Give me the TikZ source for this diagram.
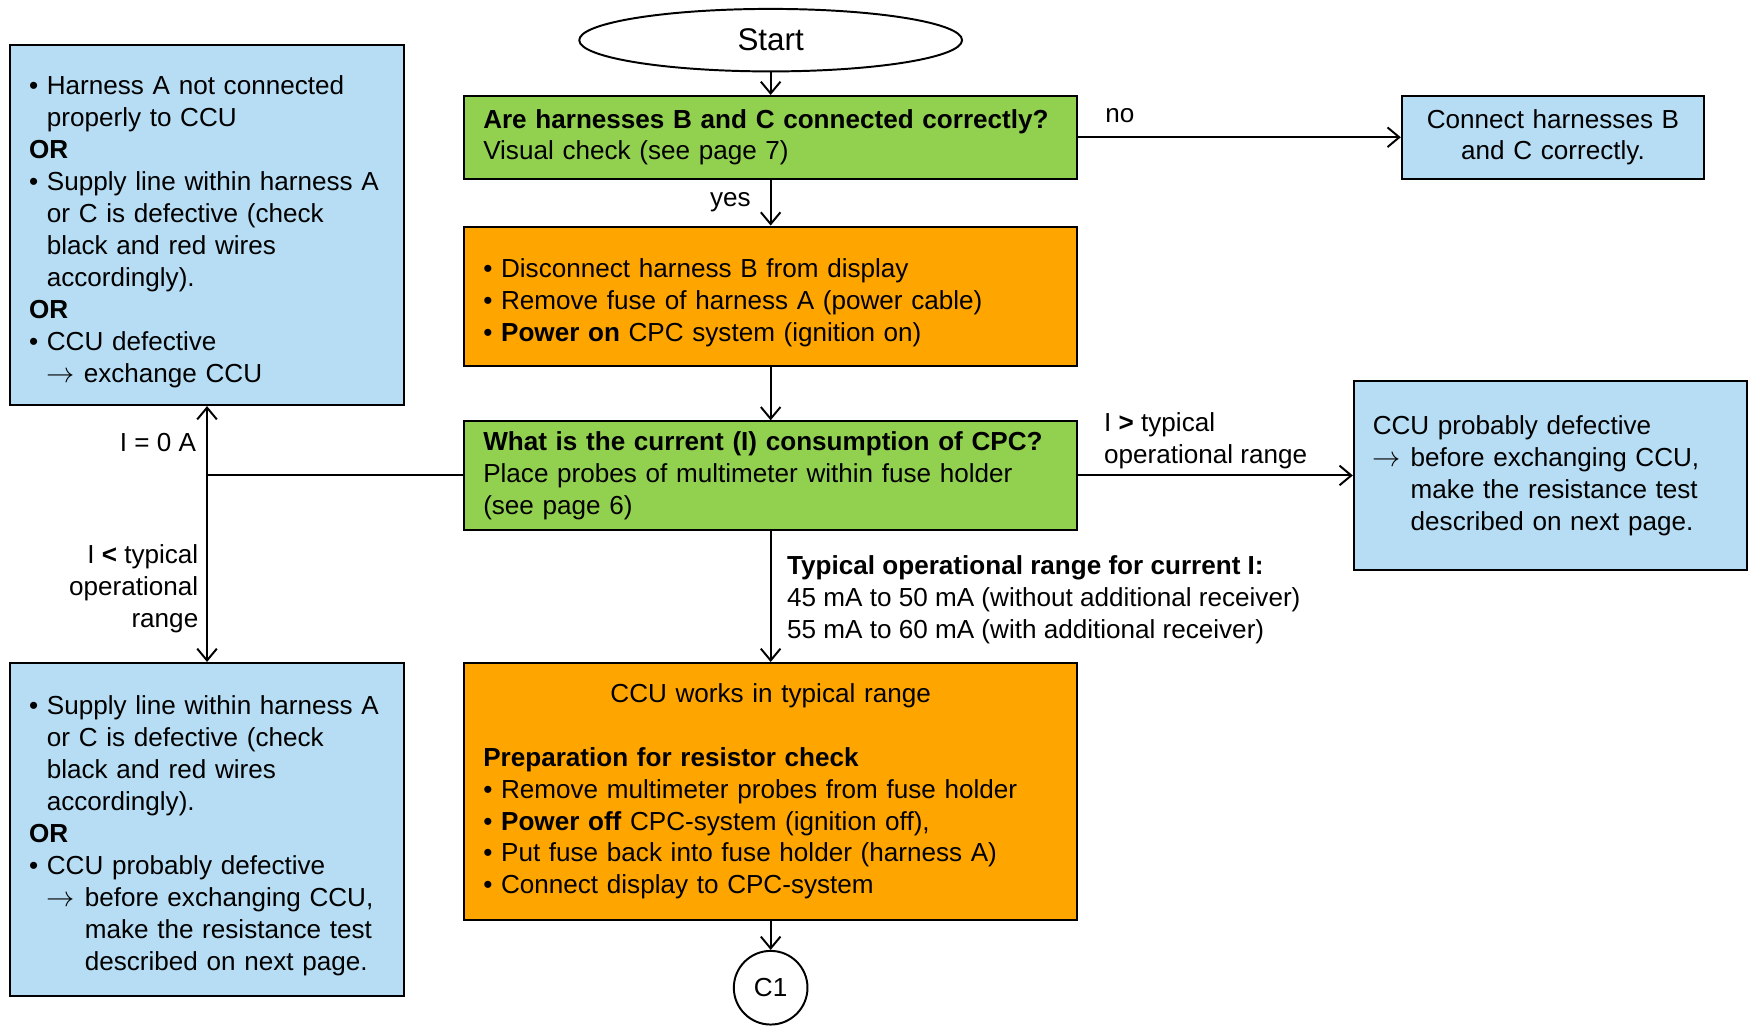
\documentclass[tikz,border=0pt]{standalone}
\usepackage{fontspec}
\setmainfont{Liberation Sans}
\usetikzlibrary{arrows.meta,shapes.geometric,calc}
\definecolor{CheckClr}{RGB}{146,208,80}
\definecolor{StepClr}{RGB}{255,165,0}
\definecolor{NoteClr}{RGB}{182,221,244}

% bullet item and arrow item with hanging indent
\newcommand{\itm}[1]{\par\hangindent=0.32cm\hangafter=1\noindent\makebox[0.32cm][l]{\textbullet}#1\par}
\newcommand{\arr}[2][0cm]{\par\hangindent=\dimexpr#1+0.68cm\relax\hangafter=1\noindent\hspace*{#1}\makebox[0.68cm][l]{$\rightarrow$}#2\par}
\newcommand{\orline}{\par\noindent\textbf{OR}\par}
\hyphenpenalty=10000

\begin{document}
\begin{tikzpicture}[
  txt/.style={font=\fontsize{13.3}{16.3}\selectfont, inner sep=0pt},
  box/.style={txt, draw=black, line width=1pt, inner xsep=0.34cm, align=left},
  chkbox/.style={box, fill=CheckClr, text width=10.30cm, minimum height=#1},
  stepbox/.style={box, fill=StepClr, text width=10.30cm, minimum height=#1},
  notebox/.style={box, fill=NoteClr},
  flow/.style={line width=1pt, -{Straight Barb[length=6pt,width=10pt]}}
]
\useasboundingbox (0,0) rectangle (31.36,18.42);

\node[ellipse, draw, line width=1pt, minimum width=6.86cm, minimum height=1.12cm, inner sep=0pt,
  font=\fontsize{16}{19}\selectfont] (start) at (13.81,17.70) {Start};

\node[chkbox=1.48cm] (chk) at (13.81,15.96)
  {\textbf{Are harnesses B and C connected correctly?}\\Visual check (see page 7)};
\node[notebox, text width=4.74cm, minimum height=1.48cm, align=center] (conn) at (27.83,15.96)
  {Connect harnesses B\\and C correctly.};

\node[stepbox=2.50cm] (prep) at (13.81,13.11) {%
  \itm{Disconnect harness B from display}
  \itm{Remove fuse of harness A (power cable)}
  \itm{\textbf{Power on} CPC system (ignition on)}};

\node[chkbox=1.94cm] (cur) at (13.81,9.90)
  {\textbf{What is the current (I) consumption of CPC?}\\Place probes of multimeter within fuse holder\\(see page 6)};

\node[notebox, text width=6.38cm, minimum height=6.46cm] (zero) at (3.71,14.39) {%
  \itm{Harness A not connected\newline properly to CCU}
  \orline
  \itm{Supply line within harness A\newline or C is defective (check\newline black and red wires\newline accordingly).}
  \orline
  \itm{CCU defective\newline $\rightarrow$ exchange CCU}};

\node[notebox, text width=6.38cm, minimum height=5.96cm] (low) at (3.71,3.56) {%
  \itm{Supply line within harness A\newline or C is defective (check\newline black and red wires\newline accordingly).}
  \orline
  \itm{CCU probably defective}
  \arr[0.32cm]{before exchanging CCU,\newline make the resistance test\newline described on next page.}};

\node[notebox, text width=6.36cm, minimum height=3.38cm] (hi) at (27.78,9.90) {%
  \noindent CCU probably defective\par
  \arr{before exchanging CCU,\newline make the resistance test\newline described on next page.}};

\node[stepbox=4.60cm] (typ) at (13.81,4.24) {%
  {\centering\noindent CCU works in typical range\par}
  \mbox{}\par
  \noindent\textbf{Preparation for resistor check}\par
  \itm{Remove multimeter probes from fuse holder}
  \itm{\textbf{Power off} CPC-system (ignition off),}
  \itm{Put fuse back into fuse holder (harness A)}
  \itm{Connect display to CPC-system}};

\node[circle, draw, line width=1pt, minimum size=1.32cm, txt] (cone) at (13.81,0.72) {C1};

% connectors
\draw[flow] (start) -- (chk);
\draw[flow] (chk) -- (prep);
\draw[flow] (chk) -- (conn);
\draw[flow] (prep) -- (cur);
\draw[flow] (cur) -- (hi);
\draw[flow] (cur) -- (typ);
\draw[flow] (typ) -- (cone);
\coordinate (j) at (cur.west -| zero.south);
\draw[line width=1pt] (cur) -- (j);
\draw[flow] (j) -- (zero);
\draw[flow] (j) -- (low);

\node[txt, anchor=base west] (lno) at (19.80,16.22) {no};
\node[txt, anchor=base east] (lyes) at (13.46,14.72) {yes};
\node[txt, anchor=base east] (lzero) at (3.52,10.33) {I = 0 A};
\node[txt, anchor=east, align=right] (llow) at (3.56,7.87) {I \textbf{<} typical\\operational\\range};
\node[txt, anchor=west, align=left] (lhigh) at (19.78,10.53) {I \textbf{>} typical\\operational range};
\node[txt, anchor=west, align=left] (lrange) at (14.10,7.67)
  {\textbf{Typical operational range for current I:}\\45 mA to 50 mA (without additional receiver)\\55 mA to 60 mA (with additional receiver)};

\end{tikzpicture}
\end{document}
